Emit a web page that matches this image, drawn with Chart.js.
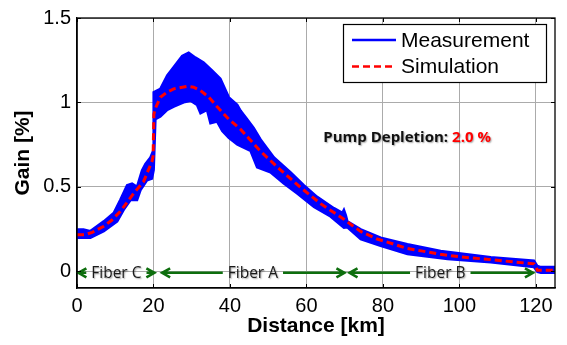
<!DOCTYPE html>
<html>
<head>
<meta charset="utf-8">
<title>Gain vs Distance</title>
<style>
  html, body { margin: 0; padding: 0; background: #fff; }
  #wrap { width: 567px; height: 345px; }
</style>
</head>
<body>
<div id="wrap"><canvas id="gainChart" width="567" height="345"></canvas></div>

<script src="https://cdn.jsdelivr.net/npm/chart.js"></script>
<script>
// values
const simDist = [0, 2, 4, 7, 9, 11.3, 13, 14.8, 17.4, 19.6, 19.9, 20.1, 20.6, 21.8, 23.5, 25.3, 28.8, 30.5, 32.3, 34.5, 36.6, 39.7, 42.8, 45, 48, 53.2, 58.5, 63.7, 69.8, 72, 74.2, 78.5, 80, 86.4, 90, 95, 100, 108.3, 114, 119.5, 120.4, 125];
const simGain = [0.215, 0.215, 0.23, 0.266, 0.3, 0.353, 0.405, 0.46, 0.53, 0.65, 0.68, 0.93, 0.97, 1.03, 1.06, 1.08, 1.095, 1.09, 1.07, 1.03, 0.975, 0.9, 0.84, 0.785, 0.71, 0.6, 0.495, 0.4, 0.308, 0.27, 0.235, 0.19, 0.18, 0.134, 0.12, 0.1, 0.085, 0.068, 0.055, 0.043, 0.005, 0.005];

// measurement: upper and lower edge of the noisy band
const measUpDist = [0, 1.7, 3.5, 7, 9.6, 11.3, 13.1, 14.4, 15.7, 17, 17.9, 19.2, 19.9, 20.05, 21.8, 23.6, 25.3, 27.5, 29.2, 31, 33.1, 35.3, 37.5, 39.7, 41.9, 42.8, 44.5, 46.2, 48, 51.5, 55.8, 59.3, 62.8, 67.2, 69.4, 69.8, 70.3, 70.7, 74.2, 79.4, 86.4, 95.1, 108.2, 119.5, 120.4, 121.3, 125];
const measUpGain = [0.247, 0.247, 0.237, 0.295, 0.344, 0.421, 0.509, 0.519, 0.5, 0.596, 0.635, 0.673, 0.712, 1.06, 1.08, 1.16, 1.21, 1.275, 1.295, 1.265, 1.236, 1.19, 1.14, 1.03, 0.985, 0.95, 0.9, 0.848, 0.78, 0.673, 0.586, 0.509, 0.44, 0.373, 0.345, 0.363, 0.33, 0.295, 0.247, 0.198, 0.16, 0.12, 0.082, 0.062, 0.03, 0.024, 0.024];
const measLoDist = [0, 3.5, 7, 10.5, 12.2, 14, 15.7, 16.6, 18.3, 19.6, 20.05, 20.5, 21.8, 23.6, 25.3, 27.9, 29.7, 31.4, 32.3, 34, 34.9, 36.6, 38, 39.7, 41.9, 42.8, 45.4, 47.1, 50.6, 54.1, 57.6, 62, 66.3, 69.8, 70.7, 74.2, 79.4, 86.4, 96.9, 108.2, 119.5, 120.4, 121.3, 125];
const measLoGain = [0.198, 0.198, 0.237, 0.295, 0.363, 0.421, 0.421, 0.48, 0.538, 0.548, 0.6, 0.9, 0.916, 0.955, 0.975, 1.0, 1.01, 0.985, 0.935, 0.955, 0.877, 0.887, 0.83, 0.79, 0.75, 0.74, 0.712, 0.615, 0.586, 0.519, 0.46, 0.38, 0.324, 0.257, 0.26, 0.189, 0.15, 0.101, 0.072, 0.053, 0.024, -0.005, -0.009, -0.009];

const xTicks = [0, 20, 40, 60, 80, 100, 120];
const yTicks = [0, 0.5, 1, 1.5];

const fiberNames = ['Fiber C', 'Fiber A', 'Fiber B'];
const fiberStart = [0.1, 22, 71];
const fiberEnd = [20.5, 70.2, 119.5];
const fiberMid = [10.3, 46, 95];
const arrowLevel = -0.01;

const depletionLabel = 'Pump Depletion:';
const depletionValue = '2.0 %';
const depletionAt = [64.4, 0.79];

function pts(xs, ys) {
    return xs.map((x, i) => ({ x: x, y: ys[i] }));
}

const axisFont = "'Liberation Sans', Arial, Helvetica, sans-serif";
const noteFont = "'Open Sans', 'Noto Sans', sans-serif";
const gridCol = '#ababab';

// matlab-like frame, inside ticks, legend box and the text notes
const matlabFrame = {
    id: 'matlabFrame',
    afterDatasetsDraw(chart) {
        const { ctx, chartArea: a, scales: { x, y } } = chart;
        ctx.save();

        // fiber sections with arrows
        const ly = y.getPixelForValue(arrowLevel);
        ctx.font = '15.5px ' + noteFont;
        ctx.textBaseline = 'middle';
        ctx.textAlign = 'center';
        fiberNames.forEach((name, i) => {
            const x0 = x.getPixelForValue(fiberStart[i]);
            const x1 = x.getPixelForValue(fiberEnd[i]);
            const xc = x.getPixelForValue(fiberMid[i]);
            const w = ctx.measureText(name).width;
            const gl = xc - w / 2 - 5, gr = xc + w / 2 + 5;
            ctx.strokeStyle = '#0d6e0d';
            ctx.lineWidth = 2.6;
            ctx.beginPath();
            if (gl > x0 + 1) { ctx.moveTo(x0 + 1, ly); ctx.lineTo(gl, ly); }
            if (x1 > gr + 1) { ctx.moveTo(gr, ly); ctx.lineTo(x1 - 1, ly); }
            ctx.moveTo(x0 + 9, ly - 4.5); ctx.lineTo(x0 + 1, ly); ctx.lineTo(x0 + 9, ly + 4.5);
            ctx.moveTo(x1 - 9, ly - 4.5); ctx.lineTo(x1 - 1, ly); ctx.lineTo(x1 - 9, ly + 4.5);
            ctx.stroke();

            ctx.shadowColor = 'rgba(0,0,0,0.35)';
            ctx.shadowOffsetX = 1;
            ctx.shadowOffsetY = 1;
            ctx.shadowBlur = 1.5;
            ctx.fillStyle = '#1a1a1a';
            ctx.fillText(name, xc, ly + 1);
            ctx.shadowColor = 'transparent';
        });

        // pump depletion note
        const px = x.getPixelForValue(depletionAt[0]);
        const py = y.getPixelForValue(depletionAt[1]);
        ctx.font = 'bold 15px ' + noteFont;
        ctx.textAlign = 'left';
        ctx.shadowColor = 'rgba(0,0,0,0.35)';
        ctx.shadowOffsetX = 1;
        ctx.shadowOffsetY = 1;
        ctx.shadowBlur = 1.5;
        ctx.fillStyle = '#111';
        ctx.fillText(depletionLabel, px, py);
        const dw = ctx.measureText(depletionLabel).width;
        ctx.fillStyle = '#ff0000';
        ctx.fillText(depletionValue, px + dw + 4, py);
        ctx.shadowColor = 'transparent';

        // frame + inside ticks
        ctx.strokeStyle = '#000';
        ctx.lineWidth = 1.3;
        ctx.strokeRect(a.left, a.top, a.right - a.left, a.bottom - a.top);
        ctx.lineWidth = 1;
        ctx.beginPath();
        xTicks.forEach(v => {
            const px2 = Math.round(x.getPixelForValue(v)) + 0.5;
            ctx.moveTo(px2, a.top); ctx.lineTo(px2, a.top + 4);
            ctx.moveTo(px2, a.bottom); ctx.lineTo(px2, a.bottom - 4);
        });
        yTicks.forEach(v => {
            const py2 = Math.round(y.getPixelForValue(v)) + 0.5;
            ctx.moveTo(a.left, py2); ctx.lineTo(a.left + 4, py2);
            ctx.moveTo(a.right, py2); ctx.lineTo(a.right - 4, py2);
        });
        ctx.stroke();

        // legend box
        const bx = a.right - 212, by = a.top + 6, bw = 203, bh = 58;
        ctx.fillStyle = '#fff';
        ctx.fillRect(bx, by, bw, bh);
        ctx.strokeStyle = '#000';
        ctx.lineWidth = 1.2;
        ctx.strokeRect(bx + 0.5, by + 0.5, bw, bh);
        const rows = [
            { label: 'Measurement', color: '#0000ff', dash: [] },
            { label: 'Simulation', color: '#ff0000', dash: [7, 4] }
        ];
        ctx.font = '21px ' + axisFont;
        ctx.textBaseline = 'middle';
        rows.forEach((r, i) => {
            const ry = by + 16 + i * 26.5;
            ctx.strokeStyle = r.color;
            ctx.lineWidth = 2.6;
            ctx.setLineDash(r.dash);
            ctx.beginPath();
            ctx.moveTo(bx + 9, ry);
            ctx.lineTo(bx + 53, ry);
            ctx.stroke();
            ctx.setLineDash([]);
            ctx.fillStyle = '#000';
            ctx.fillText(r.label, bx + 58, ry + 1);
        });

        ctx.restore();
    }
};

const ctx = document.getElementById('gainChart');
new Chart(ctx, {
    type: 'line',
    data: {
        datasets: [{
            label: 'Measurement',
            data: pts(measUpDist, measUpGain),
            borderColor: '#0000ff',
            backgroundColor: '#0000ff',
            borderWidth: 2.5,
            fill: '+1',
            pointRadius: 0,
            tension: 0,
            order: 2
        },
        {
            label: 'Measurement (low)',
            data: pts(measLoDist, measLoGain),
            borderColor: '#0000ff',
            borderWidth: 2.5,
            fill: false,
            pointRadius: 0,
            tension: 0,
            order: 2
        },
        {
            label: 'Simulation',
            data: pts(simDist, simGain),
            borderColor: '#ff0000',
            borderWidth: 3,
            borderDash: [7, 4],
            fill: false,
            pointRadius: 0,
            tension: 0,
            order: 1
        }]
    },
    options: {
        responsive: false,
        animation: false,
        devicePixelRatio: 1,
        layout: { padding: { top: 15, right: 12, left: 0, bottom: 0 } },
        plugins: {
            legend: { display: false },
            tooltip: { enabled: false }
        },
        scales: {
            x: {
                type: 'linear',
                min: 0,
                max: 125,
                afterBuildTicks: s => { s.ticks = xTicks.map(v => ({ value: v })); },
                afterFit: s => { s.height = 57; },
                grid: { color: gridCol, lineWidth: 1, drawTicks: false },
                border: { color: '#000', width: 1.3 },
                ticks: {
                    color: '#000',
                    padding: 6,
                    maxRotation: 0,
                    font: { family: axisFont, size: 20 }
                },
                title: {
                    display: true,
                    text: 'Distance [km]',
                    color: '#000',
                    font: { family: axisFont, size: 21, weight: 'bold' },
                    padding: { top: 0, bottom: 6 }
                }
            },
            y: {
                min: -0.1,
                max: 1.5,
                afterBuildTicks: s => { s.ticks = yTicks.map(v => ({ value: v })); },
                afterFit: s => { s.width = 77; },
                grid: { color: gridCol, lineWidth: 1, drawTicks: false },
                border: { color: '#000', width: 1.3 },
                ticks: {
                    color: '#000',
                    padding: 6,
                    font: { family: axisFont, size: 20 },
                    callback: v => String(v)
                },
                title: {
                    display: true,
                    text: 'Gain [%]',
                    color: '#000',
                    font: { family: axisFont, size: 21, weight: 'bold' },
                    padding: { top: 11, bottom: 0 }
                }
            }
        }
    },
    plugins: [matlabFrame]
});
</script>
</body>
</html>
